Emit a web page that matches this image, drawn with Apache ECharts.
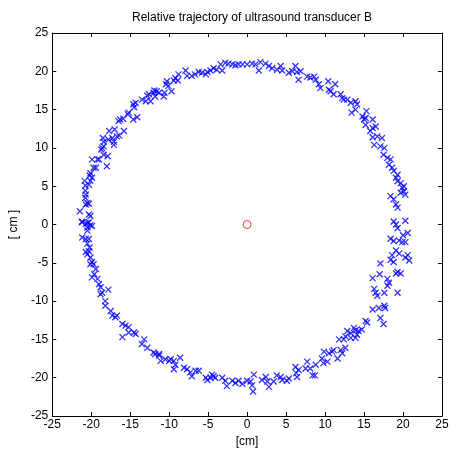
<!DOCTYPE html>
<html>
<head>
  <meta charset="UTF-8">
  <title>Relative trajectory</title>
  <script src="https://cdn.jsdelivr.net/npm/echarts@6/dist/echarts.min.js"></script>
</head>
<body style="margin:0">
  <div id="main" style="width:454px;height:454px;"></div>
  <script type="text/javascript">
    // axis ticks
    var axisTicks = [-25, -20, -15, -10, -5, 0, 5, 10, 15, 20, 25];
    // transducer position (centre)
    var centre = [[0, 0]];
    var trajectory = [
      // upper left
      [-21.45, 1.74], [-21.2, 0.35], [-20.5, 0.2], [-20.1, -0.1], [-19.9, -0.2], [-20.5, -0.4],
      [-20.1, 1.1], [-20.3, 1.3], [-20.7, 2.6], [-20.5, 2.8], [-20.3, 2.7],
      [-20.75, 3.5], [-20.7, 3.9], [-20.75, 4.4], [-20.75, 5.1], [-20.85, 5.7],
      [-20.3, 5.2], [-20.1, 5.7], [-19.9, 6.1], [-20.1, 6.7], [-20.2, 6.4],
      [-19.7, 7.4], [-19.4, 7.4], [-19.9, 8.5], [-19.2, 8.5], [-19.0, 8.5],
      [-18.7, 9.8], [-18.6, 10.0], [-18.4, 10.2], [-18.5, 11.3], [-18.4, 10.8],
      [-18.4, 9.1], [-17.9, 8.9], [-18.0, 7.6], [-17.7, 12.2], [-17.8, 11.1],
      [-17.3, 11.3], [-17.1, 10.4], [-17.1, 10.8], [-17.0, 12.4], [-16.7, 11.5], [-16.4, 11.6],
      [-16.5, 13.5], [-16.3, 13.7], [-15.8, 12.2], [-15.9, 13.8],
      [-15.3, 14.4], [-15.2, 14.6], [-14.5, 15.3], [-14.6, 15.7], [-14.3, 15.9],
      [-14.6, 13.7], [-14.1, 14.0], [-13.5, 16.3], [-13.0, 16.1],
      [-12.8, 16.8], [-12.6, 17.0], [-12.4, 16.1], [-12.0, 17.2], [-11.9, 17.5], [-11.6, 17.4],
      [-11.3, 17.2], [-11.8, 16.7], [-10.7, 16.7], [-10.6, 17.2],
      [-10.4, 18.3], [-10.3, 18.7], [-10.1, 18.1], [-9.7, 17.4],
      [-9.4, 18.8], [-9.2, 19.1], [-8.8, 19.6], [-8.9, 18.8],
      [-7.9, 20.1], [-7.7, 19.4], [-7.1, 19.4], [-6.7, 19.6],
      [-6.2, 19.9], [-5.8, 19.8], [-5.3, 19.6], [-5.1, 19.9],
      [-4.7, 20.1], [-4.3, 20.4], [-3.9, 20.2], [-3.4, 20.9], [-3.2, 20.1],
      [-2.8, 21.1], [-2.4, 21.0], [-1.9, 20.9], [-1.5, 20.8], [-1.1, 20.9],
      // upper right
      [-0.6, 20.9], [0.0, 20.9], [0.64, 21.0], [1.07, 20.9], [1.5, 20.1], [1.7, 21.2],
      [2.36, 21.0], [2.8, 20.7], [3.2, 20.4], [3.85, 20.2], [4.3, 20.7], [4.5, 20.1],
      [5.35, 19.8], [5.8, 20.0], [6.2, 20.7], [6.4, 19.9], [6.6, 18.9], [6.85, 20.0],
      [7.7, 19.3], [8.1, 19.2], [8.6, 19.3], [8.8, 18.9], [9.2, 18.3], [9.4, 17.8],
      [10.4, 18.7], [10.5, 17.6], [10.7, 17.4], [11.1, 17.0], [11.3, 18.3],
      [12.0, 17.0], [12.2, 16.5], [12.4, 16.3], [12.85, 16.3], [13.3, 15.9],
      [13.9, 16.1], [14.1, 15.7], [13.4, 14.6], [13.9, 15.0],
      [14.8, 14.1], [15.0, 13.7], [15.2, 13.9], [15.3, 14.8], [16.1, 13.7],
      [15.2, 13.0], [16.1, 12.6], [16.5, 12.8], [15.8, 12.2], [16.1, 11.4],
      [16.7, 11.5], [16.3, 10.4], [17.3, 11.3], [17.1, 10.2], [17.6, 10.0],
      [17.5, 9.1], [18.0, 8.7], [18.4, 8.5], [18.2, 7.8], [18.6, 7.4], [18.8, 7.0],
      [19.1, 6.1], [19.3, 6.5], [19.3, 5.65], [19.7, 5.4], [19.9, 4.8], [20.1, 5.0],
      [20.1, 4.35], [20.3, 3.9], [19.7, 4.15], [18.4, 3.7], [18.8, 3.3], [19.1, 2.6],
      [19.3, 2.2], [18.8, 0.4], [19.1, 0.0], [20.3, 0.5],
      // lower right
      [19.3, -0.5], [20.6, -1.1], [20.0, -1.4],
      [18.4, -1.85], [18.8, -2.15], [19.5, -2.1], [19.9, -2.3], [20.3, -2.3],
      [19.1, -3.4], [19.5, -3.8], [18.6, -4.0], [18.4, -4.6], [18.8, -4.9],
      [20.6, -4.0], [20.8, -4.7], [20.3, -4.3],
      [17.1, -5.1], [17.0, -6.5], [16.1, -7.0],
      [19.3, -6.2], [19.7, -6.4], [19.1, -6.4], [18.0, -7.1], [18.2, -7.6], [18.0, -8.0],
      [16.3, -8.4], [16.5, -8.9], [16.7, -9.3], [17.6, -8.9], [19.3, -8.9],
      [17.6, -10.6], [17.7, -10.9], [16.9, -10.9], [16.1, -11.1],
      [17.1, -12.2], [17.5, -13.0],
      [15.2, -12.6], [15.4, -12.8], [14.7, -13.7], [14.3, -13.9], [14.1, -14.4],
      [13.9, -13.8], [13.7, -13.5], [13.3, -14.2], [13.9, -14.8], [13.3, -14.8],
      [12.6, -14.6], [12.4, -15.0], [11.8, -15.0], [12.85, -13.9],
      [12.6, -16.1], [12.0, -16.4], [12.2, -16.8],
      [11.6, -17.5], [11.1, -16.4], [10.9, -16.6], [10.5, -16.8],
      [9.85, -16.6], [9.6, -17.5], [10.3, -17.9], [9.8, -18.1],
      [8.8, -18.3], [7.7, -17.9], [7.5, -18.8], [8.1, -18.8], [8.4, -19.7], [8.7, -19.7],
      [6.6, -19.0], [6.3, -19.4], [6.2, -18.6], [6.4, -19.9],
      [5.35, -20.1], [5.1, -20.4], [4.5, -20.3], [4.3, -19.9], [3.8, -19.7], [3.4, -20.5],
      [2.6, -20.5], [2.8, -21.2], [1.9, -20.3], [2.4, -19.9],
      [0.86, -19.6], [0.64, -21.0], [0.77, -21.8], [0.43, -20.5],
      [0.0, -20.4], [-0.6, -20.8],
      // lower left
      [-21.15, 0.3], [-20.7, 0.1], [-20.3, 0.3], [-20.5, -0.8],
      [-21.15, -1.7], [-20.7, -1.9], [-20.3, -1.9],
      [-20.5, -2.5], [-20.2, -3.0], [-20.7, -3.6], [-20.3, -3.5], [-20.5, -3.9],
      [-20.1, -4.3], [-19.9, -4.9], [-19.7, -5.2], [-20.1, -5.2],
      [-19.4, -5.8], [-19.6, -6.5], [-19.9, -6.9], [-19.2, -7.1],
      [-19.0, -7.8], [-18.8, -8.2], [-18.6, -8.9], [-18.8, -9.1],
      [-17.8, -8.5], [-18.2, -10.0], [-18.2, -10.6],
      [-17.5, -11.3], [-17.3, -11.9], [-16.9, -12.1], [-16.7, -11.9],
      [-16.0, -13.0], [-15.6, -13.2], [-16.0, -14.7],
      [-15.2, -13.4], [-15.2, -14.1], [-14.5, -14.1], [-14.3, -14.3],
      [-13.2, -15.0], [-13.5, -15.6], [-12.8, -16.1],
      [-12.0, -16.7], [-11.8, -16.9], [-11.3, -16.9], [-11.3, -17.1],
      [-11.1, -17.8], [-10.5, -17.6], [-10.0, -17.8], [-9.8, -17.6],
      [-9.4, -17.8], [-9.2, -18.3], [-9.4, -18.9], [-8.6, -17.4],
      [-8.1, -18.7], [-7.7, -18.9],
      [-7.3, -19.3], [-7.1, -19.8], [-6.6, -19.1], [-6.2, -19.1],
      [-5.3, -20.0], [-5.1, -20.3], [-4.7, -20.0], [-4.3, -19.8], [-4.1, -20.0], [-4.5, -19.6],
      [-3.2, -20.0], [-2.8, -20.4], [-2.6, -21.1],
      [-1.9, -20.4], [-1.5, -20.7], [-1.1, -20.4]
    ];

    var myChart = echarts.init(document.getElementById('main'));

    var font = 'Liberation Sans';
    var gridAxis = {
      min: axisTicks[0],
      max: axisTicks[axisTicks.length - 1],
      interval: 5,
      axisLine: { onZero: false, lineStyle: { color: '#000', width: 1 } },
      axisTick: { inside: true, length: 4, lineStyle: { color: '#000' } },
      splitLine: { show: false }
    };
    function mk(extra) {
      return Object.assign({}, gridAxis, extra);
    }

    var option = {
      backgroundColor: '#fff',
      animation: false,
      title: {
        text: 'Relative trajectory of ultrasound transducer B',
        left: 127,
        top: 7,
        textStyle: { fontFamily: font, fontSize: 12, fontWeight: 'normal', color: '#000' }
      },
      grid: { left: 52, right: 12, top: 33, bottom: 38 },
      xAxis: [
        mk({
          type: 'value', position: 'bottom',
          name: '[cm]', nameLocation: 'middle', nameGap: 20,
          nameTextStyle: { fontFamily: font, fontSize: 12, color: '#000' },
          axisLabel: { fontFamily: font, fontSize: 12, color: '#000', margin: 3 }
        }),
        mk({ type: 'value', position: 'top', axisLabel: { show: false } })
      ],
      yAxis: [
        mk({
          type: 'value', position: 'left',
          name: '[ cm ]', nameLocation: 'middle', nameGap: 27,
          nameTextStyle: { fontFamily: font, fontSize: 12, color: '#000' },
          axisLabel: { fontFamily: font, fontSize: 12, color: '#000', margin: 4 }
        }),
        mk({ type: 'value', position: 'right', axisLabel: { show: false } })
      ],
      series: [
        {
          name: 'trajectory',
          type: 'scatter',
          data: trajectory,
          symbol: 'path://M0,0L10,10M10,0L0,10',
          symbolSize: 6,
          itemStyle: { color: 'transparent', borderColor: '#0000ff', borderWidth: 1.3 }
        },
        {
          name: 'centre',
          type: 'scatter',
          data: centre,
          symbol: 'circle',
          symbolSize: 8,
          itemStyle: { color: 'transparent', borderColor: '#ff0000', borderWidth: 1 }
        }
      ]
    };

    myChart.setOption(option);
  </script>
</body>
</html>
